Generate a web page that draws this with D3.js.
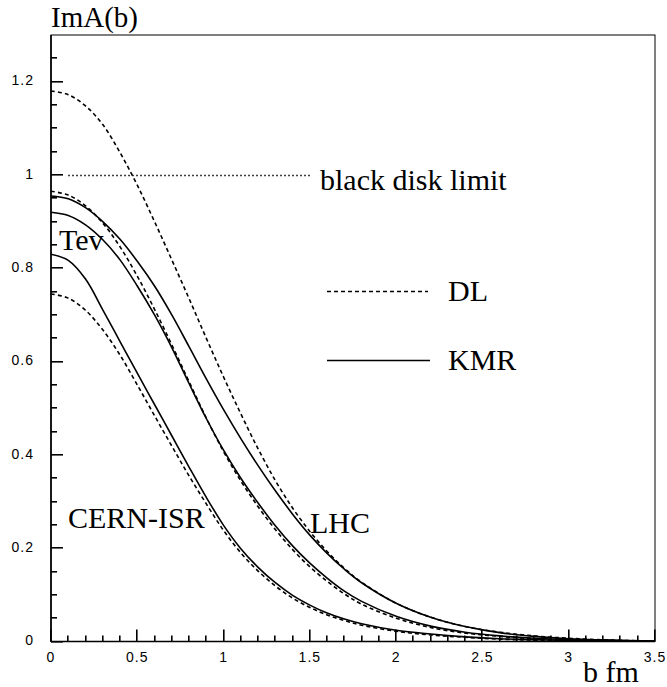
<!DOCTYPE html>
<html>
<head>
<meta charset="utf-8">
<script src="https://cdn.jsdelivr.net/npm/d3@7"></script>
<style>
  html, body { margin: 0; padding: 0; background: #fff; }
  svg { display: block; }
  .tick-label { font-family: "Liberation Sans", Arial, sans-serif; font-size: 14px; letter-spacing: 1px; fill: #000; }
  .serif { font-family: "Liberation Serif", "Times New Roman", serif; fill: #000; }
</style>
</head>
<body>
<svg id="chart" width="667" height="687"></svg>
<script>
// ---- data ----
const bValues = [0, 0.1, 0.2, 0.3, 0.4, 0.5, 0.6, 0.7, 0.8, 0.9, 1.0, 1.1, 1.2, 1.3, 1.4, 1.5, 1.6, 1.7, 1.8, 2.0, 2.2, 2.4, 2.6, 2.8, 3.0, 3.25, 3.5];

const isrDL  = [0.745, 0.736, 0.710, 0.668, 0.614, 0.550, 0.484, 0.419, 0.355, 0.295, 0.238, 0.190, 0.151, 0.119, 0.093, 0.073, 0.057, 0.045, 0.035, 0.022, 0.014, 0.009, 0.005, 0.003, 0.002, 0.001, 0.0005];
const isrKMR = [0.830, 0.817, 0.777, 0.711, 0.643, 0.575, 0.508, 0.441, 0.374, 0.309, 0.249, 0.199, 0.159, 0.126, 0.099, 0.078, 0.061, 0.048, 0.038, 0.024, 0.016, 0.010, 0.006, 0.004, 0.002, 0.001, 0.0005];
const tevDL  = [0.965, 0.957, 0.934, 0.897, 0.846, 0.783, 0.712, 0.636, 0.557, 0.479, 0.407, 0.344, 0.289, 0.240, 0.197, 0.160, 0.129, 0.102, 0.080, 0.050, 0.030, 0.018, 0.011, 0.006, 0.003, 0.0015, 0.0005];
const tevKMR = [0.920, 0.913, 0.893, 0.861, 0.818, 0.762, 0.700, 0.630, 0.553, 0.478, 0.410, 0.350, 0.297, 0.248, 0.205, 0.168, 0.136, 0.108, 0.086, 0.054, 0.033, 0.020, 0.012, 0.007, 0.004, 0.002, 0.001];
const lhcDL  = [1.180, 1.172, 1.148, 1.108, 1.048, 0.978, 0.900, 0.818, 0.735, 0.650, 0.567, 0.488, 0.413, 0.345, 0.286, 0.236, 0.193, 0.157, 0.127, 0.082, 0.052, 0.032, 0.020, 0.012, 0.007, 0.003, 0.001];
const lhcKMR = [0.955, 0.949, 0.930, 0.900, 0.862, 0.815, 0.762, 0.700, 0.632, 0.563, 0.497, 0.435, 0.377, 0.323, 0.273, 0.228, 0.189, 0.155, 0.126, 0.082, 0.052, 0.032, 0.019, 0.011, 0.006, 0.003, 0.001];

const blackDiskB = [0.1, 1.5];
const blackDiskV = [1.0, 1.0];

const xMajorTicks = [0, 0.5, 1, 1.5, 2, 2.5, 3, 3.5];
const xTickLabels = ["0", "0.5", "1", "1.5", "2", "2.5", "3", "3.5"];
const yMajorTicks = [0, 0.2, 0.4, 0.6, 0.8, 1.0, 1.2];
const yTickLabels = ["0", "0.2", "0.4", "0.6", "0.8", "1", "1.2"];
const xMinorTicks = d3.range(0, 36).map(i => i / 10);
const yMinorTicks = d3.range(0, 26).map(i => i / 20);

const seriesNames = ["CERN-ISR DL", "CERN-ISR KMR", "Tev DL", "Tev KMR", "LHC DL", "LHC KMR"];
const seriesValues = [isrDL, isrKMR, tevDL, tevKMR, lhcDL, lhcKMR];
const seriesModel = ["DL", "KMR", "DL", "KMR", "DL", "KMR"];

// ---- layout ----
const svg = d3.select("#chart");
const mLeft = 51, mRight = 655, mTop = 35, mBottom = 641.5;

const x = d3.scaleLinear().domain([0, 3.5]).range([mLeft, mRight]);
const y = d3.scaleLinear().domain([0, 1.3]).range([mBottom, mTop]);

// frame
svg.append("rect")
  .attr("x", mLeft).attr("y", mTop)
  .attr("width", mRight - mLeft).attr("height", mBottom - mTop)
  .attr("fill", "none").attr("stroke", "#000").attr("stroke-width", 1);

const isMajorX = v => Math.abs(v * 2 - Math.round(v * 2)) < 1e-6;
const isMajorY = v => Math.abs(v * 5 - Math.round(v * 5)) < 1e-6;

// axis lines
svg.append("line").attr("x1", mLeft).attr("x2", mRight).attr("y1", mBottom).attr("y2", mBottom)
  .attr("stroke", "#000").attr("stroke-width", 1.6);
svg.append("line").attr("x1", mLeft).attr("x2", mLeft).attr("y1", mTop).attr("y2", mBottom)
  .attr("stroke", "#000").attr("stroke-width", 1.6);

// tick labels
svg.append("g").selectAll("text").data(xMajorTicks).join("text")
  .attr("class", "tick-label")
  .attr("x", d => x(d)).attr("y", mBottom + 20)
  .attr("text-anchor", "middle")
  .text((d, i) => xTickLabels[i]);
svg.append("g").selectAll("text").data(yMajorTicks).join("text")
  .attr("class", "tick-label")
  .attr("x", mLeft - 17).attr("y", d => y(d))
  .attr("text-anchor", "end").attr("dominant-baseline", "middle")
  .text((d, i) => yTickLabels[i]);

// curves
const line = d3.line()
  .x((d, i) => x(bValues[i]))
  .y(d => y(d))
  .curve(d3.curveCatmullRom.alpha(0.5));

svg.append("g").selectAll("path").data(seriesValues).join("path")
  .attr("d", d => line(d))
  .attr("fill", "none")
  .attr("stroke", "#000")
  .attr("stroke-width", 1.6)
  .attr("stroke-dasharray", (d, i) => seriesModel[i] === "DL" ? "4,3" : null);

// black disk limit (dotted)
svg.append("line")
  .attr("x1", x(blackDiskB[0])).attr("x2", x(blackDiskB[1]))
  .attr("y1", Math.round(y(blackDiskV[0])) + 0.5).attr("y2", Math.round(y(blackDiskV[1])) + 0.5)
  .attr("stroke", "#000").attr("stroke-width", 1.5)
  .attr("stroke-dasharray", "1.5,2.5");

// legend
const legend = svg.append("g");
legend.append("line").attr("x1", 327).attr("x2", 428).attr("y1", 291.5).attr("y2", 291.5)
  .attr("stroke", "#000").attr("stroke-width", 1.3).attr("stroke-dasharray", "4,3");
legend.append("line").attr("x1", 327).attr("x2", 430).attr("y1", 360.5).attr("y2", 360.5)
  .attr("stroke", "#000").attr("stroke-width", 1.5);

// serif texts
const fs = 30;
const texts = [
  {t: "ImA(b)", x: 51, y: 27, size: 29},
  {t: "black disk limit", x: 320, y: 190, size: fs},
  {t: "DL", x: 448, y: 301, size: fs},
  {t: "KMR", x: 448, y: 370, size: fs},
  {t: "Tev", x: 59, y: 250, size: fs},
  {t: "CERN-ISR", x: 68, y: 528, size: fs},
  {t: "LHC", x: 310, y: 533, size: fs},
  {t: "b fm", x: 583, y: 682, size: fs}
];
svg.append("g").selectAll("text").data(texts).join("text")
  .attr("class", "serif")
  .attr("x", d => d.x).attr("y", d => d.y)
  .style("font-size", d => d.size + "px")
  .text(d => d.t);

// ticks drawn last, on top (inside the frame)
svg.append("g").selectAll("rect").data(xMinorTicks).join("rect")
  .attr("x", d => Math.round(x(d)) - 1)
  .attr("y", d => mBottom - (isMajorX(d) ? 12 : 6))
  .attr("width", 1.6)
  .attr("height", d => (isMajorX(d) ? 12 : 6))
  .attr("fill", "#000");
svg.append("g").selectAll("rect").data(yMinorTicks).join("rect")
  .attr("x", mLeft)
  .attr("y", d => Math.round(y(d)) - 1)
  .attr("width", d => (isMajorY(d) ? 12 : 6))
  .attr("height", 1.6)
  .attr("fill", "#000");
</script>
</body>
</html>
